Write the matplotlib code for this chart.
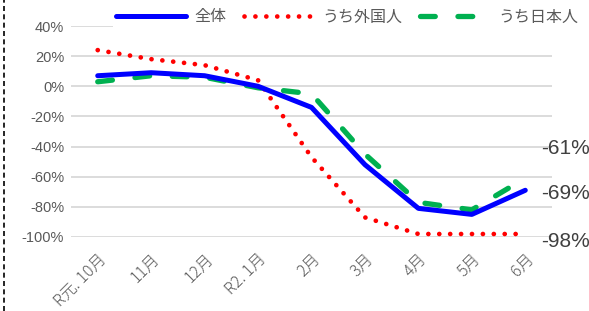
import matplotlib
matplotlib.use("Agg")
import matplotlib.pyplot as plt
from matplotlib.lines import Line2D

plt.rcParams['font.family'] = ['Liberation Sans', 'Noto Sans CJK JP', 'DejaVu Sans']

categories = ["R元. 10月", "11月", "12月", "R2. 1月", "2月", "3月", "4月", "5月", "6月"]
total = [7, 9, 7, 0, -14, -52, -81, -85, -69]
foreign = [24, 18, 14, 4, -47, -87, -98, -98, -98]
japanese = [3, 7, 6, -1, -5, -45, -77, -82, -61]
series_names = ["全体", "うち外国人", "うち日本人"]
yticks = [40, 20, 0, -20, -40, -60, -80, -100]
ytick_labels = ["40%", "20%", "0%", "-20%", "-40%", "-60%", "-80%", "-100%"]

W, H = 589, 311
fig = plt.figure(figsize=(W / 100, H / 100), dpi=100)
ax = fig.add_axes([71 / W, 1 - 237 / H, (552 - 71) / W, (237 - 26) / H])

blue_style = dict(color="#0000FF", lw=3.6, solid_capstyle="round", solid_joinstyle="round")
red_style = dict(color="#FF0000", lw=3.4, linestyle=(0, (0.01, 2.3)), dash_capstyle="round")
green_style = dict(color="#00B050", lw=3.8, linestyle=(0, (2.8, 4.3)), dash_capstyle="round")

x = list(range(len(categories)))
ax.plot(x, total, zorder=4, **blue_style)
ax.plot(x, foreign, zorder=3, **red_style)
ax.plot(x, japanese, zorder=3, **green_style)

ax.set_xlim(-0.5, len(categories) - 0.5)
ax.set_ylim(-100, 40)
ax.set_yticks(yticks)
ax.set_yticklabels(ytick_labels)
ax.yaxis.grid(True, color="#D9D9D9", lw=1.3)
ax.set_axisbelow(True)
for s in ax.spines.values():
    s.set_visible(False)
ax.tick_params(axis="both", length=0, colors="#595959", labelsize=10.5)
ax.tick_params(axis="y", pad=5)
ax.set_xticks(x)
ax.set_xticklabels(categories, rotation=45, ha="right", va="top", rotation_mode="anchor",
                   family=['Noto Sans CJK JP', 'DejaVu Sans'], fontsize=11.5, color="#595959")
ax.tick_params(axis="x", pad=10)
for lbl in ax.get_xticklabels():
    lbl.set_fontweight("light")

# end labels at 6月
last = len(categories) - 1
label_offsets = {"jp": -41, "tot": -71, "for": -103}
for key, val in (("jp", japanese[last]), ("tot", total[last]), ("for", foreign[last])):
    ax.text(last + 0.3, label_offsets[key], f"{val}%", fontsize=15, color="#404040",
            ha="left", va="center", clip_on=False)

handles = [Line2D([], [], **blue_style), Line2D([], [], **red_style), Line2D([], [], **green_style)]
leg = fig.legend(handles, series_names, loc="center", bbox_to_anchor=(347 / W, 1 - 17 / H),
                 ncol=3, frameon=True, fancybox=False, edgecolor="none", facecolor="white",
                 framealpha=1, handlelength=4.4, columnspacing=1.1, handletextpad=0.5,
                 prop={'family': ['Noto Sans CJK JP', 'DejaVu Sans'], 'size': 11.5},
                 borderpad=0.2)
for t in leg.get_texts():
    t.set_color("#595959")

# dashed frame edge at left
fig.add_artist(Line2D([3.5 / W, 3.5 / W], [0, 1], color="black", lw=1.2,
                      linestyle=(0, (3, 2)), transform=fig.transFigure))

fig.savefig("out.png", dpi=100)
